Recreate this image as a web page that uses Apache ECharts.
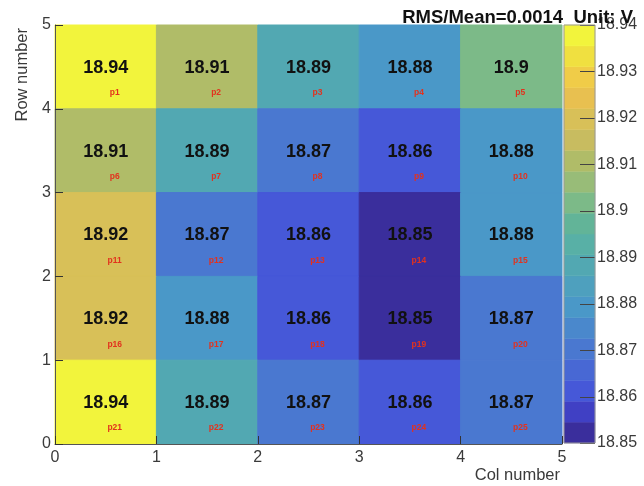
<!DOCTYPE html>
<html>
<head>
<meta charset="utf-8">
<script src="https://cdn.jsdelivr.net/npm/echarts@6/dist/echarts.min.js"></script>
<style>html,body{margin:0;padding:0;background:#fff}#c{width:644px;height:486px}</style>
</head>
<body>
<div id="c"></div>
<script>
// ---- data (rows listed top to bottom, cols left to right) ----
const rowTop    = [18.94, 18.91, 18.89, 18.88, 18.9];
const row2      = [18.91, 18.89, 18.87, 18.86, 18.88];
const row3      = [18.92, 18.87, 18.86, 18.85, 18.88];
const row4      = [18.92, 18.88, 18.86, 18.85, 18.87];
const rowBottom = [18.94, 18.89, 18.87, 18.86, 18.87];
const rowsTopToBottom = [rowTop, row2, row3, row4, rowBottom];
const zMin = 18.85, zMax = 18.94;
const zTicks = [18.85, 18.86, 18.87, 18.88, 18.89, 18.9, 18.91, 18.92, 18.93, 18.94];
const titleText = 'RMS/Mean=0.0014  Unit: V';
// palette bands, bottom to top (20 contour levels)
const bandColors = ['#3a2e9c','#4040c4','#4658d8','#4868d4','#4a78d0','#4a88cc','#4a98c8','#4ea0be','#52a8b2','#58b0a6',
                    '#62b498','#7cba88','#98bc78','#b0bc68','#c8bc60','#d8c058','#e8c050','#f0cc48','#f0e040','#f2f43c'];
const nBands = bandColors.length;
const bandW = (zMax - zMin) / nBands;

function colorFor(v) {
  let i = Math.floor((v - zMin) / bandW + 1e-9);
  if (i < 0) i = 0; if (i > nBands - 1) i = nBands - 1;
  return bandColors[i];
}

const cells = [];
rowsTopToBottom.forEach((row, ri) => {
  row.forEach((v, ci) => {
    cells.push([ci, 4 - ri, v, ri * 5 + ci + 1]);
  });
});
const bands = bandColors.map((c, i) => [i]);
const tickData = zTicks.map(t => [t]);

const chart = echarts.init(document.getElementById('c'), null, {renderer: 'canvas'});
const labelColor = '#3a3a3a';
chart.setOption({
  animation: false,
  title: {
    text: titleText, right: 6, top: 3,
    textStyle: {fontFamily: 'Liberation Sans', fontWeight: 'bold', fontSize: 18.5, color: '#111'}
  },
  grid: [
    {left: 55, top: 25, width: 507, height: 419, containLabel: false},
    {left: 564, top: 25, width: 31, height: 418, containLabel: false}
  ],
  xAxis: [
    {gridIndex: 0, type: 'value', min: 0, max: 5, interval: 1, z: 5,
     axisLine: {show: true, lineStyle: {color: '#555'}},
     axisTick: {show: true, inside: true, length: 8, lineStyle: {color: '#333'}},
     splitLine: {show: false},
     axisLabel: {fontFamily: 'Liberation Sans', fontSize: 16, color: labelColor, margin: 6}},
    {gridIndex: 1, type: 'value', min: 0, max: 1, show: false}
  ],
  yAxis: [
    {gridIndex: 0, type: 'value', min: 0, max: 5, interval: 1, z: 5,
     axisLine: {show: true, lineStyle: {color: '#555'}},
     axisTick: {show: true, inside: true, length: 8, lineStyle: {color: '#333'}},
     splitLine: {show: false},
     axisLabel: {fontFamily: 'Liberation Sans', fontSize: 16, color: labelColor, margin: 4}},
    {gridIndex: 1, type: 'value', min: zMin, max: zMax, interval: 0.01, position: 'right', z: 5,
     axisLine: {show: false},
     axisTick: {show: false},
     splitLine: {show: false},
     axisLabel: {fontFamily: 'Liberation Sans', fontSize: 16, color: labelColor, margin: 2,
                 formatter: v => String(Math.round(v * 100) / 100)}}
  ],
  series: [
    {
      type: 'custom', xAxisIndex: 0, yAxisIndex: 0, data: cells, z: 1,
      renderItem(params, api) {
        const c = api.value(0), r = api.value(1), v = api.value(2), pid = api.value(3);
        const p0 = api.coord([c, r + 1]);
        const p1 = api.coord([c + 1, r]);
        const cx = (p0[0] + p1[0]) / 2, cy = (p0[1] + p1[1]) / 2;
        const col = colorFor(v);
        return {type: 'group', children: [
          {type: 'rect', shape: {x: p0[0], y: p0[1], width: p1[0] - p0[0], height: p1[1] - p0[1]},
           style: {fill: col, stroke: col, lineWidth: 1}},
          {type: 'text', z2: 5, style: {text: String(v), x: cx, y: cy + 1, align: 'center', verticalAlign: 'middle',
           font: 'bold 18px "Liberation Sans"', fill: '#111'}},
          {type: 'text', z2: 5, style: {text: 'p' + pid, x: cx + 9, y: cy + 26, align: 'center', verticalAlign: 'middle',
           font: 'bold 8.5px "Liberation Sans"', fill: '#e2321e'}}
        ]};
      }
    },
    {
      type: 'custom', xAxisIndex: 1, yAxisIndex: 1, data: bands, z: 1,
      renderItem(params, api) {
        const i = api.value(0);
        const p0 = api.coord([0, zMin + (i + 1) * bandW]);
        const p1 = api.coord([1, zMin + i * bandW]);
        return {type: 'rect', shape: {x: p0[0], y: p0[1], width: p1[0] - p0[0], height: p1[1] - p0[1]},
                style: {fill: bandColors[i], stroke: bandColors[i], lineWidth: 0.5}};
      }
    },
    {
      type: 'custom', xAxisIndex: 1, yAxisIndex: 1, data: tickData, z: 3, silent: true,
      renderItem(params, api) {
        const p = api.coord([1, api.value(0)]);
        const y = Math.round(p[1]) + 0.5;
        return {type: 'line', shape: {x1: p[0] - 15, y1: y, x2: p[0], y2: y},
                style: {stroke: '#444', lineWidth: 1}};
      }
    }
  ],
  graphic: [
    {type: 'rect', z: 10, shape: {x: 564, y: 25, width: 31, height: 418},
     style: {fill: 'none', stroke: '#999', lineWidth: 1}},
    {type: 'text', z: 10, style: {text: 'Col number', x: 560, y: 475, align: 'right', verticalAlign: 'middle',
     font: '16.5px "Liberation Sans"', fill: labelColor}},
    {type: 'text', z: 10, rotation: Math.PI / 2, x: 22, y: 28,
     style: {text: 'Row number', x: 0, y: 0, align: 'right', verticalAlign: 'middle',
     font: '16.5px "Liberation Sans"', fill: labelColor}}
  ]
});
</script>
</body>
</html>
